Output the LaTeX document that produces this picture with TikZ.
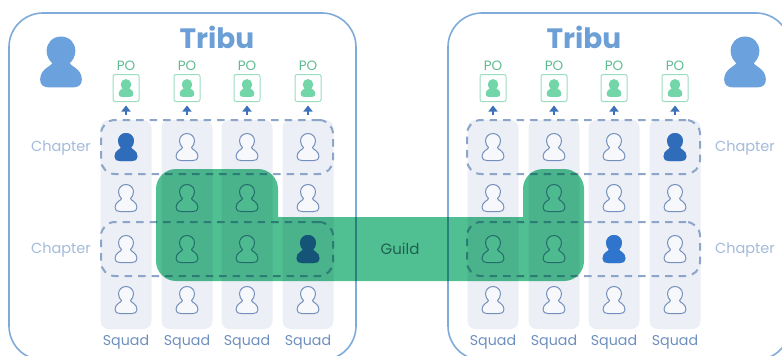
\documentclass[tikz,border=0pt]{standalone}
\usepackage{fontspec}
\setmainfont{Poppins}
\usetikzlibrary{arrows.meta}
\definecolor{tribeline}{HTML}{7FABDA}
\definecolor{tribetext}{HTML}{6C9FD6}
\definecolor{bigperson}{HTML}{6BA1DC}
\definecolor{pogreen}{HTML}{5FBB90}
\definecolor{poline}{HTML}{9BDDBE}
\definecolor{pofill}{HTML}{72D6A8}
\definecolor{colfill}{HTML}{ECEFF6}
\definecolor{dashcol}{HTML}{8CA5C8}
\definecolor{chaptext}{HTML}{A4BBDC}
\definecolor{squadtext}{HTML}{6E90C0}
\definecolor{iconline}{HTML}{7590BC}
\definecolor{iconfill}{HTML}{F6F8FC}
\definecolor{arrowcol}{HTML}{3E72B8}
\definecolor{guildgreen}{HTML}{50C092}
\definecolor{chiefA}{HTML}{2F6DBA}
\definecolor{chiefB}{HTML}{2F75CE}
\definecolor{chiefC}{HTML}{3F70D0}
\definecolor{guildtext}{HTML}{1F5F50}
\newcommand{\personicon}[5]{%
  \begin{scope}[shift={(#1,#2)},scale=#3]
    \path[fill=#4,draw=#5,line width=1pt,line join=round]
      (0,-13.5) .. controls (4.5,-13.5) and (7.5,-10) .. (7.5,-6)
      .. controls (7.5,-3) and (6,-1) .. (4.5,0.5)
      .. controls (4.5,2.5) and (11,3.5) .. (11,9.5)
      .. controls (11,12.5) and (9,13.5) .. (6,13.5)
      -- (-6,13.5)
      .. controls (-9,13.5) and (-11,12.5) .. (-11,9.5)
      .. controls (-11,3.5) and (-4.5,2.5) .. (-4.5,0.5)
      .. controls (-6,-1) and (-7.5,-3) .. (-7.5,-6)
      .. controls (-7.5,-10) and (-4.5,-13.5) .. (0,-13.5) -- cycle;
  \end{scope}}
\tikzset{
  tribebox/.style={draw=tribeline,line width=1.6pt,rounded corners=34pt},
  colbox/.style={fill=colfill,rounded corners=8pt,minimum width=51pt,minimum height=209pt,inner sep=0pt},
  chapbox/.style={draw=dashcol,line width=2pt,dash pattern=on 7.5pt off 6pt,rounded corners=14pt,minimum height=54pt,inner sep=0pt},
  pobox/.style={draw=poline,line width=1pt,rounded corners=2pt,minimum width=26pt,minimum height=27pt,inner sep=0pt},
  potext/.style={text=pogreen,font=\fontsize{13.5}{15}\selectfont,inner sep=0pt},
  tribetitle/.style={text=tribetext,font=\fontsize{28}{30}\bfseries\selectfont,inner sep=0pt},
  chaptitle/.style={text=chaptext,font=\fontsize{14.5}{16}\selectfont,inner sep=0pt},
  squadtitle/.style={text=squadtext,font=\fontsize{14.2}{16}\selectfont,inner sep=0pt},
  guildtitle/.style={text=guildtext,font=\fontsize{15}{17}\selectfont,inner sep=0pt},
  poarrow/.style={draw=arrowcol,line width=1.6pt,-{Triangle[length=6pt,width=9pt]},shorten >=3.5pt},
  guildshape/.style={fill=guildgreen,blend mode=multiply}
}
\begin{document}
\begin{tikzpicture}[x=1pt,y=-1pt]
\useasboundingbox (0,0) rectangle (782,356);
\fill[white] (0,0) rectangle (782,356);
% tribe frames
\begin{scope}
\clip (0,0) rectangle (782,356);
\draw[tribebox] (9,13) rectangle (356,360);
\draw[tribebox] (448,13) rectangle (790,360);
\end{scope}
% columns and squad labels
\foreach \n/\cx in {a/126,b/187,c/247,d/308,e/493,f/554,g/614,h/675}{
  \node[colbox] (col\n) at (\cx,224.5) {};
  \node[squadtitle] (squad\n) at (\cx,342.5) {Squad};
  \node[pobox] (po\n) at (\cx,88) {};
  \node[potext] (potxt\n) at (\cx,65.5) {PO};
  \personicon{\cx}{88}{0.62}{pofill}{pofill}
  \coordinate (up\n) at (\cx,115);
  \draw[poarrow] (up\n) -- (po\n);
}
% chapters
\node[chapbox,minimum width=232pt] (chA) at (217,147) {};
\node[chapbox,minimum width=232pt] (chB) at (217,249) {};
\node[chapbox,minimum width=233pt] (chC) at (583.5,147) {};
\node[chapbox,minimum width=233pt] (chD) at (583.5,249) {};
% members
\foreach \cx in {126,187,247,308,493,554,614,675}{
  \foreach \cy in {147,198,249,300}{
    \personicon{\cx}{\cy}{1}{iconfill}{iconline}
  }
}
\personicon{126}{147}{1}{chiefA}{chiefA}
\personicon{675}{147}{1}{chiefA}{chiefA}
\personicon{614}{249}{1}{chiefB}{chiefB}
\personicon{308}{249}{1}{chiefC}{chiefC}
% guild
\path[guildshape] [rounded corners=20pt] (156,230) -- (156,169) -- (278,169) -- (278,217)
  [sharp corners] -- (278,217) -- (523,217)
  [rounded corners=20pt] -- (523,169) -- (584,169) -- (584,281) -- (156,281) -- (156,230) -- cycle;
% big persons
\personicon{61}{62}{1.85}{bigperson}{bigperson}
\personicon{745}{62}{1.85}{bigperson}{bigperson}
% labels
\node[tribetitle] (tribeL) at (217,37.5) {Tribu};
\node[tribetitle] (tribeR) at (584,37.5) {Tribu};
\node[chaptitle] (chapA) at (61,148) {Chapter};
\node[chaptitle] (chapB) at (61,250) {Chapter};
\node[chaptitle] (chapC) at (745,148) {Chapter};
\node[chaptitle] (chapD) at (745,250) {Chapter};
\node[guildtitle] (guild) at (400,248.5) {Guild};
\end{tikzpicture}
\end{document}
